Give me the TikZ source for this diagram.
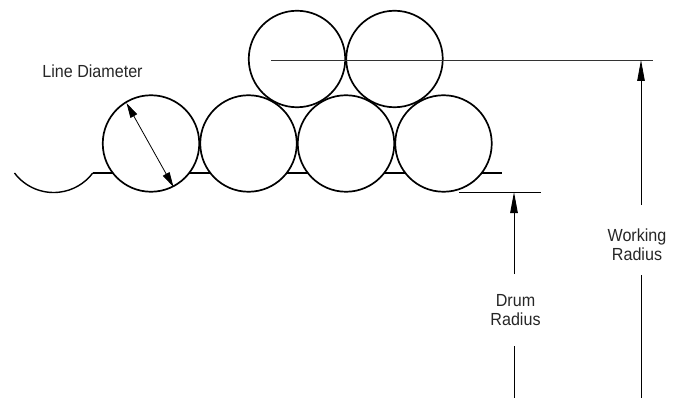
\documentclass[tikz,border=0pt]{standalone}
\usepackage{fontspec}
\setmainfont[FakeStretch=0.92]{Liberation Sans}
\usetikzlibrary{arrows.meta}
\tikzset{
  wrap/.style={circle,draw=black,fill=white,line width=1.7pt,minimum size=96.5pt,inner sep=0pt,outer sep=0pt},
  thick line/.style={line width=1.4pt,black},
  dim/.style={line width=0.8pt,black},
  dimtip/.style={-{Triangle[length=21pt,width=7.5pt]}},
  bothtip/.style={{Triangle[length=15pt,width=7.5pt]}-{Triangle[length=15pt,width=7.5pt]}},
  lbl/.style={font=\fontsize{17.5}{19}\selectfont,align=center,text=black!85,inner sep=0pt}
}
\begin{document}
\begin{tikzpicture}[x=1pt,y=-1pt]
\useasboundingbox (0,0) rectangle (682,398);
% base line of the drum
\coordinate (base a) at (92.5,173);
\coordinate (base b) at (502,173);
\draw[thick line] (base a) -- (base b);
% groove
\draw[thick line] (14.5,173) arc[start angle=143,end angle=37,radius=49];
% wraps of line
\node[wrap] (c1) at (151,143.5) {};
\node[wrap] (c2) at (248.5,143.5) {};
\node[wrap] (c3) at (346,143.5) {};
\node[wrap] (c4) at (443.5,143.5) {};
\node[wrap] (c5) at (297,59) {};
\node[wrap] (c6) at (394.5,59) {};
% line diameter
\coordinate (d a) at (126.5,103);
\coordinate (d b) at (173.5,187);
\draw[dim,bothtip] (d a) -- (d b);
\node[lbl] (ld) at (92.5,71.5) {Line Diameter};
% working radius
\coordinate (wl a) at (271,60);
\coordinate (wl b) at (652.5,60);
\draw[line width=0.8pt,black!80] (wl a) -- (wl b);
\coordinate (wt) at (641,60);
\coordinate (wm) at (641,205);
\coordinate (wl) at (641,275);
\coordinate (we) at (641,398);
\draw[dim,dimtip] (wm) -- (wt);
\draw[dim] (wl) -- (we);
\node[lbl] (wr) at (637,245) {Working\\Radius};
% drum radius
\coordinate (dl a) at (459,192);
\coordinate (dl b) at (541,192);
\draw[dim] (dl a) -- (dl b);
\coordinate (dt) at (514,192);
\coordinate (dm) at (514,274);
\coordinate (dl) at (514,346);
\coordinate (de) at (514,398);
\draw[line width=1pt,black,dimtip] (dm) -- (dt);
\draw[dim] (dl) -- (de);
\node[lbl] (dr) at (515.5,310) {Drum\\Radius};
\end{tikzpicture}
\end{document}
